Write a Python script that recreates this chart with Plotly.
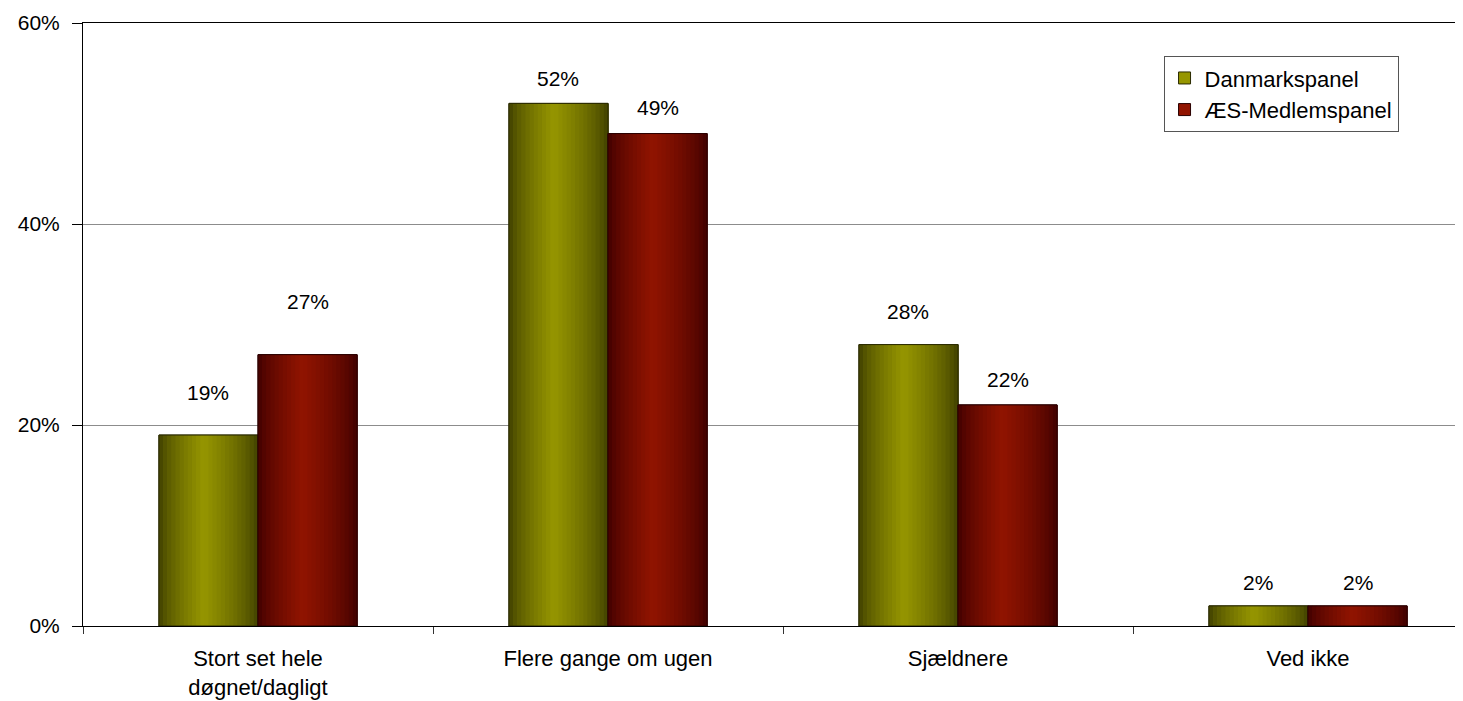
import plotly.graph_objects as go

categories = ["Stort set hele<br>døgnet/dagligt", "Flere gange om ugen", "Sjældnere", "Ved ikke"]
series_names = ["Danmarkspanel", "ÆS-Medlemspanel"]
danmark = [0.19, 0.52, 0.28, 0.02]
aes = [0.27, 0.49, 0.22, 0.02]
y_ticks = [0, 0.2, 0.4, 0.6]
y_tick_labels = ["0%", "20%", "40%", "60%"]

# style
FONT = "Liberation Sans, Arial, sans-serif"
FS_LABEL = 21
FS_XTICK = 22
FS_YTICK = 21
FS_LEGEND = 22
BAR_W = 0.283
N_SLICES = 24
series_style = [
    dict(edge=(62, 62, 0), peak=(150, 150, 0), border="#2a2a00", offset=-BAR_W,
         label_shift=[43, 25, 33, 23]),
    dict(edge=(62, 0, 0), peak=(145, 20, 0), border="#2a0000", offset=0.0,
         label_shift=[53, 26, 25, 23]),
]


def shade(edge, peak, t, peak_pos=0.45):
    # t in [0,1] across the bar; brightness peaks at peak_pos
    if t <= peak_pos:
        f = t / peak_pos
    else:
        f = (1 - t) / (1 - peak_pos)
    f = max(0.0, min(1.0, f)) ** 0.7
    c = [round(e + (p - e) * f) for e, p in zip(edge, peak)]
    return "rgb(%d,%d,%d)" % tuple(c)


fig = go.Figure()
all_values = [danmark, aes]

for name, vals, st in zip(series_names, all_values, series_style):
    mid = shade(st["edge"], st["peak"], 0.45)
    # base bar (carries legend entry)
    fig.add_trace(go.Bar(
        x=categories, y=vals, name=name, width=BAR_W, offset=st["offset"],
        marker=dict(color=mid, line=dict(color=st["border"], width=1)),
        showlegend=True, hoverinfo="skip"))
    sw = BAR_W / N_SLICES
    for i in range(N_SLICES):
        t = (i + 0.5) / N_SLICES
        fig.add_trace(go.Bar(
            x=categories, y=vals, width=sw * 1.15, offset=st["offset"] + i * sw,
            marker=dict(color=shade(st["edge"], st["peak"], t), line=dict(width=0)),
            showlegend=False, hoverinfo="skip"))
    # outline on top
    fig.add_trace(go.Bar(
        x=categories, y=vals, width=BAR_W, offset=st["offset"],
        marker=dict(color="rgba(0,0,0,0)", line=dict(color=st["border"], width=1)),
        showlegend=False, hoverinfo="skip"))

# data labels
annotations = []
for vals, st in zip(all_values, series_style):
    for ci, (cat, v) in enumerate(zip(categories, vals)):
        annotations.append(dict(
            x=ci + st["offset"] + BAR_W / 2, y=v, xref="x", yref="y",
            text="%d%%" % round(v * 100), showarrow=False,
            yshift=st["label_shift"][ci],
            font=dict(family=FONT, size=FS_LABEL, color="black")))

# page body has an 8px margin: compensate in figure size / margins
fig.update_layout(
    width=1455, height=693,
    margin=dict(l=75, r=0, t=15, b=75, autoexpand=False),
    paper_bgcolor="white", plot_bgcolor="white",
    barmode="overlay",
    font=dict(family=FONT, size=FS_LABEL, color="black"),
    annotations=annotations,
    showlegend=True,
    legend=dict(
        x=0.783, y=0.945, xanchor="left", yanchor="top",
        bordercolor="#555555", borderwidth=1, bgcolor="white",
        font=dict(family=FONT, size=FS_LEGEND, color="black"),
        traceorder="normal", itemwidth=30, tracegroupgap=0),
)

fig.update_xaxes(
    type="category", categoryorder="array", categoryarray=categories,
    range=[-0.5, 3.5 - 20 / 350], automargin=False,
    showline=True, linecolor="black", linewidth=1, mirror=True,
    ticks="outside", ticklen=7, tickcolor="#333333", tickson="boundaries",
    showgrid=False, ticklabelstandoff=13,
    tickfont=dict(family=FONT, size=FS_XTICK, color="black"),
)
fig.update_yaxes(
    range=[0, 0.6], tickvals=y_ticks, ticktext=y_tick_labels, automargin=False,
    showline=True, linecolor="black", linewidth=1,
    ticks="outside", ticklen=10, tickcolor="black",
    showgrid=True, gridcolor="#8c8c8c", gridwidth=1,
    zeroline=False, ticklabelstandoff=8,
    tickfont=dict(family=FONT, size=FS_YTICK, color="black"),
)

fig.write_html("out.html")
